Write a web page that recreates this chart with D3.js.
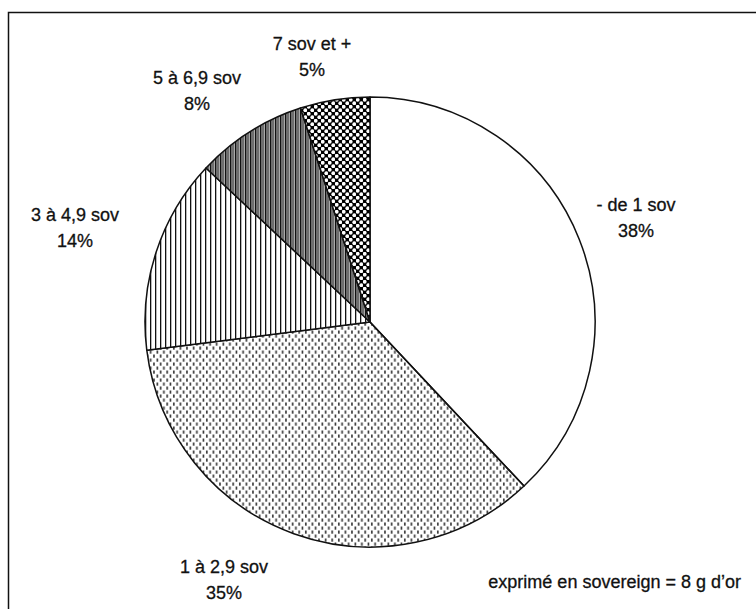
<!DOCTYPE html>
<html><head><meta charset="utf-8">
<script src="https://cdn.jsdelivr.net/npm/d3@7/dist/d3.min.js"></script>
<style>body{margin:0;background:#fff}svg{display:block}text{font-family:"Liberation Sans",Arial,sans-serif;fill:#111}</style>
</head><body>
<svg id="c" width="756" height="609"></svg>
<script>
const categories = ["- de 1 sov", "1 à 2,9 sov", "3 à 4,9 sov", "5 à 6,9 sov", "7 sov et +"];
const values = [38, 35, 14, 8, 5];
const labels = ["38%", "35%", "14%", "8%", "5%"];
const note = "exprimé en sovereign = 8 g d\u2019or";

const svg = d3.select("#c");
const defs = svg.append("defs");

const pDots = defs.append("pattern").attr("id","pDots").attr("patternUnits","userSpaceOnUse").attr("width",6.6).attr("height",8);
pDots.append("rect").attr("x",1).attr("y",0.5).attr("width",1.6).attr("height",3.2).attr("fill","#333");
pDots.append("rect").attr("x",4.3).attr("y",4.5).attr("width",1.6).attr("height",3.2).attr("fill","#333");

const pVert = defs.append("pattern").attr("id","pVert").attr("patternUnits","userSpaceOnUse").attr("width",5).attr("height",10);
pVert.append("rect").attr("width",5).attr("height",10).attr("fill","#fff");
pVert.append("rect").attr("x",0).attr("y",0).attr("width",1.3).attr("height",10).attr("fill","#111");

const pDense = defs.append("pattern").attr("id","pDense").attr("patternUnits","userSpaceOnUse").attr("width",5).attr("height",10);
pDense.append("rect").attr("width",5).attr("height",10).attr("fill","#aaa");
pDense.append("rect").attr("x",0).attr("y",0).attr("width",1.4).attr("height",10).attr("fill","#111");
pDense.append("rect").attr("x",2.5).attr("y",0).attr("width",1).attr("height",10).attr("fill","#333");

const pCheck = defs.append("pattern").attr("id","pCheck").attr("patternUnits","userSpaceOnUse").attr("width",7).attr("height",7);
pCheck.append("rect").attr("width",7).attr("height",7).attr("fill","#000");
pCheck.append("circle").attr("cx",1.75).attr("cy",1.75).attr("r",1.9).attr("fill","#fff");
pCheck.append("circle").attr("cx",5.25).attr("cy",5.25).attr("r",1.9).attr("fill","#fff");

const fills = ["#fff","url(#pDots)","url(#pVert)","url(#pDense)","url(#pCheck)"];

svg.append("path").attr("d","M8.5,609 V12.5 H756").attr("fill","none").attr("stroke","#111").attr("stroke-width",1.5);

const cx = 370, cy = 322, r = 225;
const data = categories.map((c,i)=>({c, v:values[i], l:labels[i], f:fills[i]}));
const pie = d3.pie().value(d=>d.v).sort(null);
const arc = d3.arc().innerRadius(0).outerRadius(r);
const g = svg.append("g").attr("transform",`translate(${cx},${cy})`);
g.selectAll("path").data(pie(data)).join("path")
  .attr("d",arc).attr("fill",d=>d.data.f).attr("stroke","#111").attr("stroke-width",1.5).attr("stroke-linejoin","round");

const labelPos = [[636,211],[224,573],[75,221],[197,84],[312,50]];
data.forEach((d,i)=>{
  const [x,y] = labelPos[i];
  const t = svg.append("text").attr("x",x).attr("y",y).attr("text-anchor","middle").attr("font-size",18)
    .attr("stroke","#111").attr("stroke-width",0.3);
  t.append("tspan").attr("x",x).attr("dy",0).text(d.c);
  t.append("tspan").attr("x",x).attr("dy",26).text(d.l);
});
svg.append("text").attr("x",741).attr("y",588).attr("text-anchor","end").attr("font-size",18)
  .attr("stroke","#111").attr("stroke-width",0.3).text(note);
</script>
</body></html>
